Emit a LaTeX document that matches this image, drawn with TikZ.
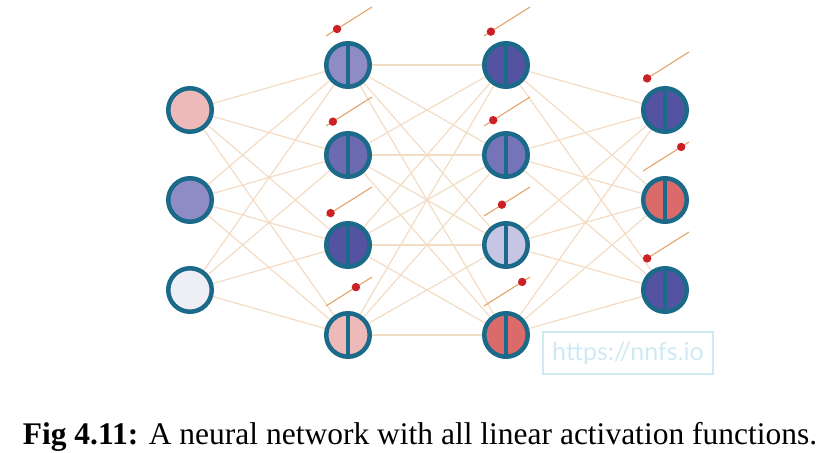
\documentclass[tikz,border=0pt]{standalone}
\usepackage{fontspec}
\setmainfont{Liberation Serif}
\newfontfamily\wmfont{Lato}
\usetikzlibrary{calc,backgrounds}
\definecolor{rim}{HTML}{1B6A8A}
\definecolor{edgec}{HTML}{F3DCC4}
\definecolor{biasc}{HTML}{E2A468}
\definecolor{dotc}{HTML}{CC2027}
\definecolor{cpink}{HTML}{EDB9B9}
\definecolor{clav}{HTML}{8F8BC5}
\definecolor{cpale}{HTML}{EEEEF7}
\definecolor{cdark}{HTML}{5453A1}
\definecolor{cmid}{HTML}{6C6BB2}
\definecolor{cmid2}{HTML}{7574B8}
\definecolor{clight}{HTML}{C6C6E4}
\definecolor{cred}{HTML}{DB6A6A}
\definecolor{wmc}{HTML}{CFEAF2}
\tikzset{
  neuron/.style={circle, draw=rim, line width=4.5bp, minimum size=43.5bp, inner sep=0pt, fill=#1},
  split/.style={path picture={\draw[rim, line width=3.5bp] (path picture bounding box.north) -- (path picture bounding box.south);}},
  conn/.style={draw=edgec, line width=1.2bp},
  biasline/.style={draw=biasc, line width=1.1bp},
}
\newcommand{\biasat}[2]{%
  \draw[biasline] ($(#1)+(-22,-29)$) -- ($(#1)+(24,-58)$);
  \fill[dotc] ($($(#1)+(-22,-29)$)!#2!($(#1)+(24,-58)$)$) circle (4.2bp);
}
\begin{document}
\begin{tikzpicture}[x=1bp,y=-1bp]
\useasboundingbox (0,0) rectangle (839,453);
% input layer
\node[neuron=cpink] (i1) at (190,110) {};
\node[neuron=clav] (i2) at (190,200) {};
\node[neuron=cpale] (i3) at (190,290) {};
% hidden layer 1
\node[neuron=clav, split] (a1) at (348,65) {};
\node[neuron=cmid, split] (a2) at (348,155) {};
\node[neuron=cdark, split] (a3) at (348,245) {};
\node[neuron=cpink, split] (a4) at (348,335) {};
% hidden layer 2
\node[neuron=cdark, split] (b1) at (506,65) {};
\node[neuron=cmid2, split] (b2) at (506,155) {};
\node[neuron=clight, split] (b3) at (506,245) {};
\node[neuron=cred, split] (b4) at (506,335) {};
% output layer
\node[neuron=cdark, split] (o1) at (665,110) {};
\node[neuron=cred, split] (o2) at (665,200) {};
\node[neuron=cdark, split] (o3) at (665,290) {};
% connections
\begin{pgfonlayer}{background}
\foreach \s in {i1,i2,i3}{\foreach \t in {a1,a2,a3,a4}{\draw[conn] (\s) -- (\t);}}
\foreach \s in {a1,a2,a3,a4}{\foreach \t in {b1,b2,b3,b4}{\draw[conn] (\s) -- (\t);}}
\foreach \s in {b1,b2,b3,b4}{\foreach \t in {o1,o2,o3}{\draw[conn] (\s) -- (\t);}}
\end{pgfonlayer}
% biases
\biasat{a1}{0.24}
\biasat{a2}{0.15}
\biasat{a3}{0.10}
\biasat{a4}{0.65}
\biasat{b1}{0.15}
\biasat{b2}{0.20}
\biasat{b3}{0.39}
\biasat{b4}{0.83}
\biasat{o1}{0.09}
\biasat{o2}{0.83}
\biasat{o3}{0.09}
% watermark
\node[draw=wmc, line width=1.5bp, minimum width=170bp, minimum height=42bp, inner sep=0pt,
      text=wmc, font=\wmfont\fontsize{25bp}{28bp}\selectfont] (wm) at (628,353) {https://nnfs.io};
% caption
\node[anchor=base, font=\fontsize{31.5bp}{34bp}\selectfont, inner sep=0pt] (cap) at (420,444)
  {\textbf{Fig 4.11:} A neural network with all linear activation functions.};
\end{tikzpicture}
\end{document}
